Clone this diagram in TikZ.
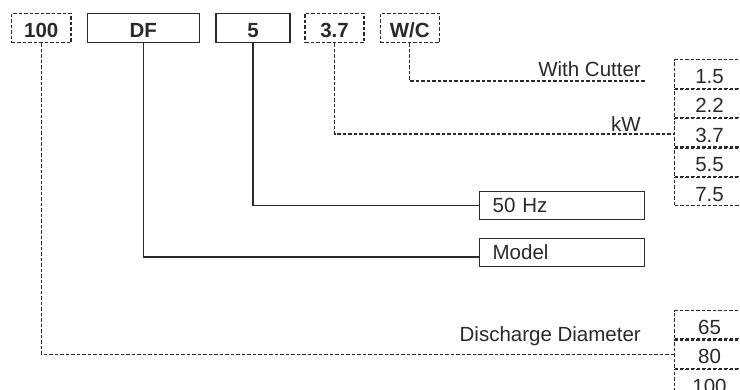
\documentclass[tikz,border=0pt]{standalone}
\usepackage{fontspec}
\setmainfont{Liberation Sans}
\definecolor{ink}{HTML}{2A2A2A}
\begin{document}
\begin{tikzpicture}[x=1pt,y=-1pt,
  dline/.style={draw=ink, line width=1.1pt, dash pattern=on 3.5pt off 2pt},
  sline/.style={draw=ink, line width=1.3pt},
  topbox/.style={inner sep=0pt, minimum height=29.4pt, text height=18pt, text depth=0pt,
    font=\fontsize{20.5}{24}\selectfont\bfseries, text=ink},
  cell/.style={dline, inner sep=0pt, minimum width=70pt, minimum height=28.3pt,
    text height=19pt, text depth=0pt, anchor=north west,
    font=\fontsize{20.5}{24}\selectfont, text=ink},
  widebox/.style={sline, inner ysep=0pt, inner xsep=13pt, text width=139pt, align=left,
    minimum height=28pt, anchor=north west, text height=14.5pt, text depth=0pt,
    font=\fontsize{20.5}{24}\selectfont, text=ink},
  lbl/.style={inner sep=0pt, anchor=base east, font=\fontsize{20.5}{24}\selectfont, text=ink}
]
\clip (0,0) rectangle (740,389);
\fill[white] (0,0) rectangle (740,389);

% top code boxes
\node[topbox, dline, minimum width=59.3pt] (b100) at (41.3,28) {100};
\node[topbox, sline, minimum width=112pt] (bdf) at (143.3,28) {DF};
\node[topbox, sline, minimum width=74pt] (b5) at (253,28) {5};
\node[topbox, dline, minimum width=59pt] (b37) at (334.5,28) {3.7};
\node[topbox, dline, minimum width=59.3pt] (bwc) at (409.7,28) {W/C};

% kW column
\node[cell] (c15) at (674,59.3) {1.5};
\node[cell] (c22) at (c15.south west) {2.2};
\node[cell] (c37) at (c22.south west) {3.7};
\node[cell] (c55) at (c37.south west) {5.5};
\node[cell] (c75) at (c55.south west) {7.5};

% diameter column
\node[cell] (d65) at (674,310) {65};
\node[cell] (d80) at (d65.south west) {80};
\node[cell] (d100) at (d80.south west) {100};

% boxes
\node[widebox] (hz) at (479,191) {50 Hz};
\node[widebox] (model) at (479,238) {Model};

% labels
\node[lbl] (lcut) at (641,76) {With Cutter};
\node[lbl] (lkw) at (641,131) {kW};
\node[lbl] (ldia) at (641,341) {Discharge Diameter};

% connectors
\coordinate (cutend) at (645,81);
\coordinate (kwend) at (674,134);
\coordinate (modelin) at (479,257);
\draw[dline] (bwc.south) |- (cutend);
\draw[dline] (b37.south) |- (kwend);
\draw[dline] (b100.south) |- (d80.west);
\draw[sline] (b5.south) |- (hz.west);
\draw[sline] (bdf.south) |- (modelin);
\end{tikzpicture}
\end{document}
